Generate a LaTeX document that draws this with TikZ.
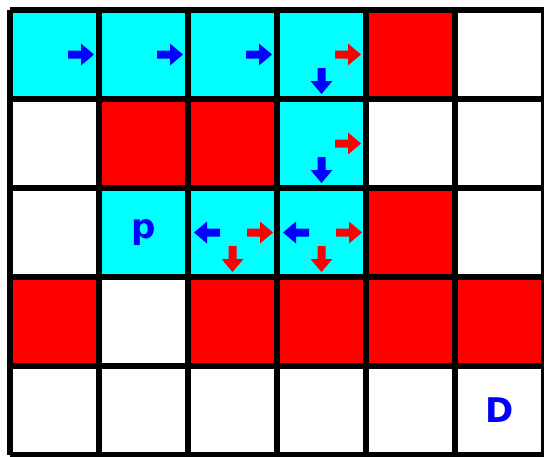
\documentclass[tikz,border=0pt]{standalone}
\usepackage{fontspec}
\setmainfont{DejaVu Sans}
\definecolor{cellcyan}{RGB}{0,255,255}
\definecolor{cellred}{RGB}{255,0,0}
\definecolor{arrblue}{RGB}{0,0,255}
\tikzset{
  cyancell/.style={fill=cellcyan},
  redcell/.style={fill=cellred},
  gridline/.style={line width=6.6pt, black},
  lbl/.style={inner sep=0pt, text=arrblue, font=\bfseries\fontsize{34}{34}\selectfont},
  rarr/.pic={\fill (-26,-4) -- (-13,-4) -- (-13,-11) -- (0,0) -- (-13,11) -- (-13,4) -- (-26,4) -- cycle;},
  larr/.pic={\fill (26,-4) -- (13,-4) -- (13,-11) -- (0,0) -- (13,11) -- (13,4) -- (26,4) -- cycle;},
  darr/.pic={\fill (-4,-26) -- (-4,-13) -- (-11,-13) -- (0,0) -- (11,-13) -- (4,-13) -- (4,-26) -- cycle;},
}
\begin{document}
\begin{tikzpicture}[x=1pt,y=-1pt]
\useasboundingbox (0,0) rectangle (544,456);
% cells: origin of cell (c,r) at (10+89c, 10+89r)
\foreach \c/\r in {0/0,1/0,2/0,3/0,3/1,1/2,2/2,3/2}
  \fill[cyancell] ({10+89*\c},{10+89*\r}) rectangle +(89,89);
\foreach \c/\r in {4/0,1/1,2/1,4/2,0/3,2/3,3/3,4/3,5/3}
  \fill[redcell] ({10+89*\c},{10+89*\r}) rectangle +(89,89);
% grid
\foreach \i in {0,...,6}
  \draw[gridline] ({10+89*\i},10) -- ({10+89*\i},455);
\foreach \j in {0,...,5}
  \draw[gridline] (10,{10+89*\j}) -- (544,{10+89*\j});
% arrows row 0
\foreach \c in {0,1,2}
  \pic[arrblue] at ({10+89*\c+84},54.5) {rarr};
\pic[cellred] at ({10+89*3+84},54.5) {rarr};
\pic[arrblue] at ({10+89*3+44.5},{10+84}) {darr};
% row 1
\pic[cellred] at ({10+89*3+84},{99+44.5}) {rarr};
\pic[arrblue] at ({10+89*3+44.5},{99+84}) {darr};
% row 2
\foreach \c in {2,3}{
  \pic[arrblue] at ({10+89*\c+6},{188+44.5}) {larr};
  \pic[cellred] at ({10+89*\c+85},{188+44.5}) {rarr};
  \pic[cellred] at ({10+89*\c+44.5},{188+84}) {darr};
}
% labels
\node[lbl] (p) at (143.5,232.5) {p};
\node[lbl] (d) at (499.5,410.5) {D};
\end{tikzpicture}
\end{document}
